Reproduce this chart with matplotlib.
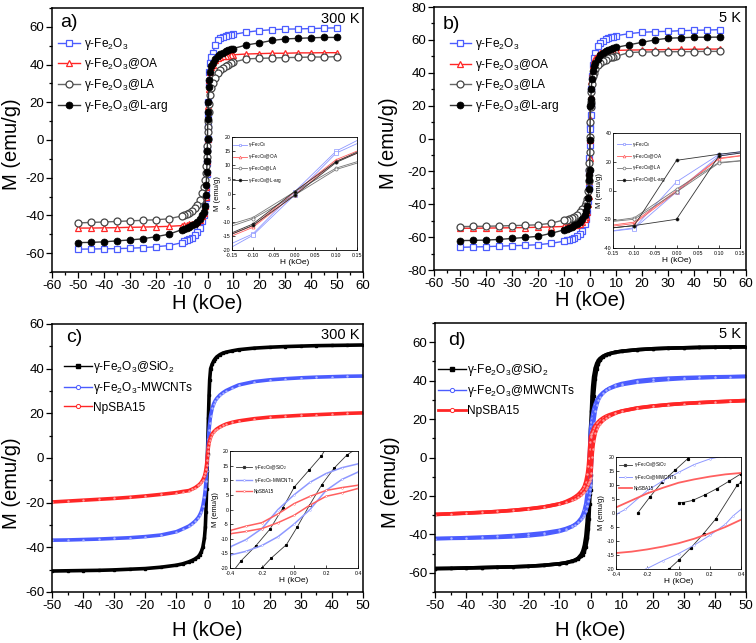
import matplotlib
matplotlib.use('Agg')
import matplotlib.pyplot as plt
from matplotlib.ticker import MultipleLocator

plt.rcParams['font.family'] = ['Liberation Sans', 'DejaVu Sans']
plt.rcParams['mathtext.fontset'] = 'custom'
plt.rcParams['mathtext.rm'] = 'Liberation Sans'
plt.rcParams['mathtext.it'] = 'Liberation Sans:italic'
plt.rcParams['mathtext.bf'] = 'Liberation Sans:bold'
plt.rcParams['axes.unicode_minus'] = False

# ---------------- data: panels a, b (field grid in kOe, descending branch) ----------------
H_ab = [50, 45, 40, 35, 30, 25, 20, 15, 10, 9, 8, 7, 6, 5, 4, 3, 2, 1.5, 1, 0.7, 0.5, 0.3, 0.2, 0.1, 0,
        -0.1, -0.2, -0.3, -0.5, -0.7, -1, -1.5, -2, -3, -4, -5, -6, -7, -8, -9, -10, -15, -20, -25, -30,
        -35, -40, -45, -50]

a_fe = [59.5, 59.3, 59.1, 58.9, 58.8, 58.5, 58.0, 57.2, 56.0, 55.8, 55.6, 55.3, 54.8, 54.2, 53.0, 50.5,
        46.0, 44.0, 41.0, 36.0, 30.0, 20.0, 14.0, 7.0, 0.6, -5.0, -12.0, -18.0, -26.0, -31.0, -35.0, -40.0,
        -43.0, -46.5, -48.8, -50.5, -51.8, -52.6, -53.2, -53.8, -54.5, -56.0, -56.6, -57.1, -57.4, -57.6,
        -57.7, -57.8, -57.9]
a_oa = [46.3, 46.3, 46.2, 46.2, 46.0, 46.0, 45.8, 45.6, 45.2, 45.0, 44.8, 44.6, 44.3, 44.0, 43.4, 42.3,
        40.0, 38.5, 36.0, 32.0, 27.0, 18.0, 12.0, 6.0, 0.5, -5.0, -11.0, -17.0, -25.0, -30.0, -35.0, -38.5,
        -40.5, -42.5, -43.5, -44.0, -44.5, -44.8, -45.0, -45.2, -45.4, -45.8, -46.0, -46.2, -46.3, -46.5,
        -46.6, -46.7, -46.7]
a_la = [44.2, 44.0, 44.0, 43.8, 43.7, 43.5, 43.3, 43.0, 41.3, 40.7, 40.0, 39.2, 38.2, 37.0, 35.3, 33.0,
        30.0, 27.5, 24.0, 19.0, 15.0, 10.0, 7.0, 4.0, 0.5, -3.0, -6.0, -9.0, -14.0, -17.5, -21.0, -25.0,
        -28.0, -32.0, -34.5, -36.2, -37.5, -38.6, -39.3, -39.8, -40.3, -41.8, -42.3, -42.6, -42.9, -43.2,
        -43.5, -43.7, -44.0]
a_larg = [54.4, 54.4, 54.2, 53.9, 53.6, 52.8, 51.5, 50.4, 48.5, 48.0, 47.5, 47.0, 46.3, 45.5, 44.5, 43.0,
          41.0, 39.0, 36.0, 32.0, 28.0, 20.0, 15.0, 11.0, 0.6, -6.0, -11.0, -17.0, -24.0, -29.0, -35.0,
          -38.0, -40.0, -42.0, -43.5, -44.5, -45.3, -46.0, -46.5, -47.0, -47.6, -50.0, -51.3, -52.4, -53.0,
          -53.5, -54.0, -54.3, -54.4]

b_fe = [66.2, 66.0, 65.8, 65.6, 65.2, 65.0, 64.6, 63.8, 62.5, 62.0, 61.5, 61.0, 60.5, 59.5, 58.0, 56.0,
        52.0, 49.0, 45.0, 38.0, 30.0, 20.0, 14.0, 8.0, 6.0, -4.0, -12.0, -20.0, -30.0, -38.0, -45.0, -49.0,
        -52.0, -56.0, -58.0, -59.5, -60.5, -61.0, -61.5, -62.0, -62.5, -63.8, -64.6, -65.0, -65.2, -65.5,
        -65.8, -66.0, -66.2]
b_oa = [54.4, 54.4, 54.3, 54.2, 54.1, 54.0, 53.9, 53.8, 53.6, 53.4, 53.2, 53.0, 52.8, 52.5, 52.0, 51.0,
        49.0, 47.5, 45.0, 40.0, 35.0, 26.0, 20.0, 12.0, -1.0, -12.0, -20.0, -26.0, -35.0, -40.0, -45.0,
        -47.5, -49.0, -51.0, -52.0, -52.5, -52.8, -53.0, -53.2, -53.4, -53.5, -53.8, -54.0, -54.2, -54.3,
        -54.4, -54.5, -54.6, -54.6]
b_la = [53.0, 53.0, 52.9, 52.8, 52.8, 52.7, 52.6, 52.3, 50.0, 49.8, 49.5, 48.8, 48.0, 47.0, 46.0, 44.5,
        42.0, 40.0, 38.0, 33.0, 28.0, 22.0, 19.0, 10.0, 1.0, -8.0, -15.0, -19.0, -26.0, -32.0, -37.0, -39.5,
        -41.0, -43.0, -44.8, -46.5, -47.5, -48.3, -49.0, -49.3, -49.5, -51.6, -52.5, -52.8, -53.0, -53.2,
        -53.4, -53.5, -53.6]
b_larg = [61.7, 61.6, 61.6, 61.3, 61.0, 60.0, 58.5, 57.0, 55.4, 55.0, 54.5, 53.8, 53.0, 52.0, 50.5, 48.5,
          46.0, 44.0, 41.0, 36.0, 30.0, 24.0, 21.0, 20.0, -1.0, -19.0, -22.0, -25.0, -31.0, -36.0, -41.0,
          -44.0, -46.5, -49.0, -50.5, -51.8, -52.8, -53.6, -54.3, -55.0, -55.6, -57.7, -59.5, -60.2, -60.8,
          -61.4, -61.8, -62.0, -62.1]

# ---------------- data: panels c, d ----------------
H_cd = [50, 45, 40, 35, 30, 25, 20, 15, 10, 8, 6, 5, 4, 3, 2.5, 2, 1.5, 1, 0.7, 0.5, 0.3, 0.15, 0,
        -0.15, -0.3, -0.5, -0.7, -1, -1.5, -2, -2.5, -3, -4, -5, -6, -8, -10, -15, -20, -25, -30, -35,
        -40, -45, -50]

c_si = [50.6, 50.5, 50.4, 50.3, 50.1, 49.9, 49.6, 49.2, 48.5, 48.0, 47.4, 47.0, 46.3, 45.3, 44.5, 43.5,
        42.0, 40.0, 35.0, 28.0, 18.0, 10.0, 2.0, -6.0, -14.0, -24.0, -31.0, -36.0, -40.0, -42.0, -43.3,
        -44.2, -45.2, -45.9, -46.5, -47.4, -48.0, -48.9, -49.5, -49.8, -50.1, -50.3, -50.4, -50.5, -50.6]
c_cnt = [36.7, 36.6, 36.4, 36.2, 35.9, 35.5, 35.0, 34.2, 32.7, 31.5, 30.2, 29.3, 28.2, 26.7, 25.7, 24.3,
         22.3, 19.0, 15.5, 12.5, 8.5, 5.0, 1.5, -2.0, -6.0, -10.5, -14.0, -17.5, -21.5, -24.0, -25.5,
         -26.7, -28.3, -29.5, -30.5, -31.8, -33.0, -34.5, -35.2, -35.7, -36.0, -36.3, -36.5, -36.7, -36.8]
c_sba = [20.2, 20.0, 19.7, 19.4, 19.1, 18.7, 18.3, 17.6, 16.6, 16.0, 15.2, 14.6, 13.9, 13.0, 12.4, 11.7,
         10.8, 9.4, 8.0, 6.8, 5.0, 3.2, 1.5, -1.0, -3.0, -5.0, -6.6, -8.2, -9.8, -10.9, -11.7, -12.3,
         -13.3, -14.0, -14.6, -15.0, -15.5, -16.3, -17.0, -17.6, -18.1, -18.5, -18.9, -19.3, -19.7]

d_si_dn = [57.6, 57.5, 57.4, 57.3, 57.1, 56.9, 56.6, 56.1, 55.3, 54.8, 54.0, 53.5, 52.7, 51.5, 50.5, 49.0,
           46.5, 42.0, 37.0, 32.0, 24.0, 19.0, 15.0, 9.0, -1.0, -12.0, -22.0, -32.0, -41.0, -46.0, -48.8,
           -50.5, -52.4, -53.4, -54.0, -54.8, -55.3, -56.1, -56.6, -56.9, -57.1, -57.3, -57.5, -57.7, -57.8]
d_si_up = [57.6, 57.5, 57.4, 57.3, 57.1, 56.9, 56.6, 56.1, 55.3, 54.8, 54.0, 53.4, 52.4, 50.5, 48.8, 46.0,
           41.0, 32.0, 22.0, 12.0, 0.5, -9.0, -17.0, -19.0, -24.0, -32.0, -37.0, -42.0, -46.5, -49.0, -50.5,
           -51.5, -52.7, -53.5, -54.0, -54.8, -55.3, -56.1, -56.6, -56.9, -57.1, -57.3, -57.5, -57.7, -57.8]
d_cnt_dn = [42.2, 42.0, 41.7, 41.4, 41.1, 40.6, 40.0, 39.2, 37.9, 37.0, 35.8, 34.9, 33.8, 32.2, 31.1, 29.8,
            27.8, 25.0, 22.5, 20.5, 18.5, 16.5, 14.5, 10.0, 3.0, -6.0, -12.0, -18.0, -24.0, -27.5, -29.8,
            -31.5, -33.5, -35.0, -36.0, -37.5, -38.5, -40.0, -40.8, -41.3, -41.6, -41.8, -42.0, -42.1, -42.2]
d_cnt_up = [42.2, 42.1, 42.0, 41.8, 41.6, 41.3, 40.8, 40.0, 38.5, 37.5, 36.0, 35.0, 33.5, 31.5, 29.8, 27.5,
            24.0, 18.0, 12.0, 6.0, -3.0, -10.0, -14.5, -16.5, -18.5, -20.5, -22.5, -25.0, -27.8, -29.8,
            -31.1, -32.2, -33.8, -34.9, -35.8, -37.0, -37.9, -39.2, -40.0, -40.6, -41.1, -41.4, -41.7, -42.0,
            -42.2]
d_sba_dn = [29.7, 29.3, 28.9, 28.5, 28.1, 27.5, 26.7, 25.7, 24.1, 23.3, 22.2, 21.5, 20.6, 19.4, 18.6, 17.7,
            16.6, 15.2, 14.0, 13.0, 12.0, 11.3, 10.8, 8.0, 4.5, -0.5, -4.5, -8.5, -12.5, -15.0, -16.5, -17.6,
            -19.3, -20.5, -21.5, -23.0, -24.2, -25.8, -26.8, -27.5, -28.1, -28.6, -29.0, -29.3, -29.6]
d_sba_up = [29.6, 29.3, 29.0, 28.6, 28.1, 27.5, 26.8, 25.8, 24.2, 23.0, 21.5, 20.5, 19.3, 17.6, 16.5, 15.0,
            12.5, 8.5, 4.5, 0.5, -5.0, -8.3, -10.8, -11.3, -12.0, -13.0, -14.0, -15.2, -16.6, -17.7, -18.6,
            -19.4, -20.6, -21.5, -22.2, -23.3, -24.1, -25.7, -26.7, -27.5, -28.1, -28.5, -28.9, -29.3, -29.7]

# ---------------- inset data ----------------
Hi_dn = [0.2, 0.1, 0.0, -0.1, -0.2]
Hi_up = [-0.2, -0.1, 0.0, 0.1, 0.2]
ia_fe_dn = [22.5, 15.0, 0.6, -14.3, -21.0]
ia_fe_up = [-23.0, -14.8, -0.6, 14.3, 21.0]
ia_oa_dn = [18.0, 12.0, 0.5, -11.5, -17.0]
ia_oa_up = [-18.0, -12.0, -0.5, 11.5, 17.0]
ia_la_dn = [13.5, 9.0, 0.6, -8.5, -13.0]
ia_la_up = [-14.0, -9.0, -0.6, 8.5, 13.0]
ia_larg_dn = [18.0, 11.3, 0.7, -10.8, -17.0]
ia_larg_up = [-17.5, -11.3, -0.7, 11.0, 17.5]

ib_fe_dn = [29.0, 25.0, 6.0, -26.0, -30.0]
ib_fe_up = [-30.0, -26.5, -1.0, 24.0, 28.0]
ib_oa_dn = [26.0, 22.5, 0.0, -22.0, -26.0]
ib_oa_up = [-26.5, -23.0, -1.0, 22.0, 26.0]
ib_la_dn = [22.0, 19.5, 1.0, -19.0, -23.0]
ib_la_up = [-23.0, -20.0, -1.0, 19.0, 22.0]
ib_larg_dn = [28.5, 25.2, 21.0, -24.4, -27.5]
ib_larg_up = [-27.5, -24.4, -20.0, 24.0, 28.0]

ic_si_dn_H = [0.3, 0.171, 0.093, 0.002, -0.07, -0.15, -0.24, -0.33, -0.45]
ic_si_dn = [30.0, 18.3, 13.4, 7.7, 0.5, -6.7, -12.5, -17.5, -26.0]
ic_si_up_H = [-0.45, -0.2, -0.142, -0.047, 0.021, 0.097, 0.174, 0.25, 0.33, 0.45]
ic_si_up = [-30.0, -20.0, -16.6, -12.0, -5.9, 1.5, 8.5, 14.1, 18.6, 23.0]
ic_H = [0.45, 0.4, 0.3, 0.2, 0.1, 0.0, -0.1, -0.2, -0.3, -0.4, -0.45]
ic_cnt_dn = [16.0, 15.6, 14.3, 12.3, 9.3, 5.0, 0.0, -6.5, -10.3, -12.8, -13.6]
ic_cnt_up = [13.6, 12.8, 10.3, 6.5, 0.0, -5.0, -9.3, -12.3, -14.3, -15.6, -16.0]
ic_sba_dn = [8.6, 8.3, 7.5, 6.5, 4.5, 2.0, -1.5, -4.5, -5.7, -7.2, -7.8]
ic_sba_up = [7.8, 7.2, 5.7, 4.5, 1.5, -2.0, -4.5, -6.5, -7.5, -8.3, -8.6]

id_si_1_H = [-0.261, -0.182, -0.106, -0.02, 0.059, 0.1]
id_si_1 = [0.0, 5.8, 11.0, 15.4, 19.4, 22.0]
id_si_2_H = [0.001, 0.026, 0.09, 0.17, 0.245, 0.325, 0.4]
id_si_2 = [3.75, 3.7, 4.5, 6.5, 8.7, 11.4, 14.0]
id_si_3_H = [-0.06, 0.0, 0.08, 0.16, 0.24, 0.375, 0.4]
id_si_3 = [-20.0, -16.9, -12.4, -7.4, -2.0, 9.9, 11.0]
id_cnt_dn_H = [0.45, 0.3, 0.2, 0.1, 0.0, -0.1, -0.2, -0.34, -0.4]
id_cnt_dn = [21.5, 20.5, 19.3, 17.3, 14.5, 11.5, 8.0, 1.3, -0.5]
id_cnt_up_H = [-0.3, -0.2, -0.1, 0.0, 0.1, 0.2, 0.3, 0.35, 0.4]
id_cnt_up = [-22.0, -19.8, -17.0, -14.5, -11.5, -8.0, -4.0, -1.0, 1.3]
id_sba_dn_H = [0.45, 0.4, 0.3, 0.2, 0.1, 0.0, -0.1, -0.2, -0.3, -0.4]
id_sba_dn = [14.6, 14.3, 13.8, 13.0, 12.0, 10.8, 9.0, 7.0, 4.5, 2.0]
id_sba_up_H = [-0.4, -0.3, -0.2, -0.1, 0.0, 0.1, 0.2, 0.3, 0.4]
id_sba_up = [-14.3, -13.8, -13.0, -12.0, -10.8, -9.2, -7.2, -5.0, -2.4]

lab_fe = 'γ-Fe$_2$O$_3$'
lab_oa = 'γ-Fe$_2$O$_3$@OA'
lab_la = 'γ-Fe$_2$O$_3$@LA'
lab_larg = 'γ-Fe$_2$O$_3$@L-arg'
lab_si = 'γ-Fe$_2$O$_3$@SiO$_2$'
lab_cnt_c = 'γ-Fe$_2$O$_3$-MWCNTs'
lab_cnt_d = 'γ-Fe$_2$O$_3$@MWCNTs'
lab_sba = 'NpSBA15'

BLUE = '#4b5cff'
RED = '#ff2626'
GRAY = '#444444'
LBLUE = '#8e98ff'
LRED = '#ff6060'
BLUE_MK = '#aab3ff'
RED_MK = '#ff9a9a'

W, HH = 756, 643
fig = plt.figure(figsize=(7.56, 6.43), dpi=100)


def add_ax(l, t, r, b):
    return fig.add_axes([l / W, 1 - b / HH, (r - l) / W, (b - t) / HH])


def style_main(ax, xlim, ylim, xmaj, ymaj, l, t, r, b, xlab_off, ylab_x, ylab_y):
    ax.set_xlim(xlim)
    ax.set_ylim(ylim)
    ax.xaxis.set_major_locator(MultipleLocator(xmaj))
    ax.xaxis.set_minor_locator(MultipleLocator(xmaj / 2))
    ax.yaxis.set_major_locator(MultipleLocator(ymaj))
    ax.yaxis.set_minor_locator(MultipleLocator(ymaj / 2))
    ax.tick_params(which='major', direction='out', length=4, width=0.9, labelsize=9.5, pad=1.5)
    ax.tick_params(which='minor', direction='out', length=2, width=0.9)
    for s in ax.spines.values():
        s.set_linewidth(1.1)
    ax.set_xlabel('H (kOe)', fontsize=14.5)
    ax.set_ylabel('M (emu/g)', fontsize=14.5)
    ax.xaxis.set_label_coords(0.5, -xlab_off / (b - t))
    ax.xaxis.label.set_va('center')
    ax.yaxis.set_label_coords(-(l - ylab_x) / (r - l), 1 - (ylab_y - t) / (b - t))
    ax.yaxis.label.set_va('center')


def style_inset(ax, xlim, ylim, xmaj, ymaj, xfmt):
    ax.set_xlim(xlim)
    ax.set_ylim(ylim)
    ax.xaxis.set_major_locator(MultipleLocator(xmaj))
    ax.yaxis.set_major_locator(MultipleLocator(ymaj))
    ax.xaxis.set_major_formatter(matplotlib.ticker.FormatStrFormatter(xfmt))
    ax.tick_params(which='major', direction='in', length=2, width=0.5, labelsize=3.8, pad=1)
    ax.tick_params(axis='x', pad=2)
    for s in ax.spines.values():
        s.set_linewidth(0.6)
    ax.set_xlabel('H (kOe)', fontsize=6, labelpad=1)
    ax.set_ylabel('M (emu/g)', fontsize=5.5, labelpad=1)


# ================= panel a =================
la_, ta_, ra_, ba_ = 52, 8, 363, 272
ax = add_ax(la_, ta_, ra_, ba_)
ax.plot(H_ab, a_fe, '-', color=BLUE, lw=1, marker='s', ms=4.3, mfc='white', mec=BLUE, mew=0.9, label=lab_fe)
ax.plot(H_ab, a_oa, '-', color=RED, lw=1, marker='^', ms=4.6, mfc='white', mec=RED, mew=0.9, label=lab_oa)
ax.plot(H_ab, a_la, '-', color='#666666', lw=1, marker='o', ms=5, mfc='white', mec=GRAY, mew=0.9, label=lab_la)
ax.plot(H_ab, a_larg, '-', color='#333333', lw=1, marker='o', ms=5, mfc='black', mec='black', mew=0.5, label=lab_larg)
style_main(ax, (-60, 60), (-70, 70), 10, 20, la_, ta_, ra_, ba_, 31, 11, 144)
ax.text(0.055, 0.945, 'a)', transform=ax.transAxes, fontsize=14, va='center', ha='center')
ax.text(0.99, 0.96, '300 K', transform=ax.transAxes, fontsize=10.5, va='center', ha='right')
ax.legend(loc='upper left', bbox_to_anchor=(0.02, 0.895), frameon=False, fontsize=8.6, numpoints=1,
          handlelength=1.8, handletextpad=0.35, labelspacing=0.4, borderpad=0, borderaxespad=0)

ins = add_ax(232, 137, 357, 250)
for Hs, Ms, c, mk, mf in [(Hi_dn, ia_fe_dn, LBLUE, 's', 'white'), (Hi_up, ia_fe_up, LBLUE, 's', 'white'),
                          (Hi_dn, ia_oa_dn, LRED, '^', 'white'), (Hi_up, ia_oa_up, LRED, '^', 'white'),
                          (Hi_dn, ia_la_dn, '#777777', 'o', 'white'), (Hi_up, ia_la_up, '#777777', 'o', 'white'),
                          (Hi_dn, ia_larg_dn, '#333333', 'o', 'black'), (Hi_up, ia_larg_up, '#333333', 'o', 'black')]:
    ins.plot(Hs, Ms, '-', color=c, lw=0.6, marker=mk, ms=2.2, mfc=mf, mec=c, mew=0.5)
h = [ins.plot([], [], '-', color=c, lw=0.6, marker=mk, ms=2, mfc=mf, mec=c, mew=0.5)[0]
     for c, mk, mf in [(LBLUE, 's', 'white'), (LRED, '^', 'white'), ('#777777', 'o', 'white'), ('#333333', 'o', 'black')]]
ins.legend(h, [lab_fe, lab_oa, lab_la, lab_larg], loc='upper left', bbox_to_anchor=(0.01, 0.97), frameon=False,
           fontsize=3.3, numpoints=1, handlelength=3, handletextpad=0.3, labelspacing=0.6, borderpad=0,
           borderaxespad=0)
style_inset(ins, (-0.15, 0.15), (-20, 20), 0.05, 5, '%.2f')

# ================= panel b =================
lb_, tb_, rb_, bb_ = 434, 7, 746, 270
ax = add_ax(lb_, tb_, rb_, bb_)
ax.plot(H_ab, b_fe, '-', color=BLUE, lw=1, marker='s', ms=4.3, mfc='white', mec=BLUE, mew=0.9, label=lab_fe)
ax.plot(H_ab, b_oa, '-', color=RED, lw=1, marker='^', ms=4.6, mfc='white', mec=RED, mew=0.9, label=lab_oa)
ax.plot(H_ab, b_la, '-', color='#666666', lw=1, marker='o', ms=5, mfc='white', mec=GRAY, mew=0.9, label=lab_la)
ax.plot(H_ab, b_larg, '-', color='#333333', lw=1, marker='o', ms=5, mfc='black', mec='black', mew=0.5, label=lab_larg)
style_main(ax, (-60, 60), (-80, 80), 10, 20, lb_, tb_, rb_, bb_, 30, 389, 143)
ax.text(0.055, 0.935, 'b)', transform=ax.transAxes, fontsize=14, va='center', ha='center')
ax.text(0.985, 0.96, '5 K', transform=ax.transAxes, fontsize=10.5, va='center', ha='right')
ax.legend(loc='upper left', bbox_to_anchor=(0.05, 0.89), frameon=False, fontsize=8.6, numpoints=1,
          handlelength=1.8, handletextpad=0.35, labelspacing=0.4, borderpad=0, borderaxespad=0)

ins = add_ax(613, 133, 740, 248)
for Hs, Ms, c, mk, mf in [(Hi_dn, ib_fe_dn, LBLUE, 's', 'white'), (Hi_up, ib_fe_up, LBLUE, 's', 'white'),
                          (Hi_dn, ib_oa_dn, LRED, '^', 'white'), (Hi_up, ib_oa_up, LRED, '^', 'white'),
                          (Hi_dn, ib_la_dn, '#777777', 'o', 'white'), (Hi_up, ib_la_up, '#777777', 'o', 'white'),
                          (Hi_dn, ib_larg_dn, '#333333', 'o', 'black'), (Hi_up, ib_larg_up, '#333333', 'o', 'black')]:
    ins.plot(Hs, Ms, '-', color=c, lw=0.6, marker=mk, ms=2.2, mfc=mf, mec=c, mew=0.5)
h = [ins.plot([], [], '-', color=c, lw=0.6, marker=mk, ms=2, mfc=mf, mec=c, mew=0.5)[0]
     for c, mk, mf in [(LBLUE, 's', 'white'), (LRED, '^', 'white'), ('#777777', 'o', 'white'), ('#333333', 'o', 'black')]]
ins.legend(h, [lab_fe, lab_oa, lab_la, lab_larg], loc='upper left', bbox_to_anchor=(0.03, 0.94), frameon=False,
           fontsize=3.3, numpoints=1, handlelength=3, handletextpad=0.3, labelspacing=0.6, borderpad=0,
           borderaxespad=0)
style_inset(ins, (-0.15, 0.15), (-40, 40), 0.05, 20, '%.2f')

# ================= panel c =================
lc_, tc_, rc_, bc_ = 52, 324, 363, 592
ax = add_ax(lc_, tc_, rc_, bc_)
ax.plot(H_cd, c_si, '-', color='black', lw=2.6, marker='s', ms=1.6, mfc='black', mec='black', label=lab_si)
ax.plot(H_cd, c_cnt, '-', color=BLUE, lw=2.6, marker='o', ms=1.4, mfc=BLUE_MK, mec=BLUE_MK, mew=0.3, label=lab_cnt_c)
ax.plot(H_cd, c_sba, '-', color=RED, lw=2.6, marker='o', ms=1.4, mfc=RED_MK, mec=RED_MK, mew=0.3, label=lab_sba)
style_main(ax, (-50, 50), (-60, 60), 10, 20, lc_, tc_, rc_, bc_, 38, 11, 483)
ax.text(0.07, 0.95, 'c)', transform=ax.transAxes, fontsize=14, va='center', ha='center')
ax.text(0.99, 0.96, '300 K', transform=ax.transAxes, fontsize=10.5, va='center', ha='right')
hc = [ax.plot([], [], '-', color='black', lw=1, marker='s', ms=2.5, mfc='black')[0],
      ax.plot([], [], '-', color=BLUE, lw=1, marker='o', ms=3, mfc='white', mec=BLUE, mew=0.7)[0],
      ax.plot([], [], '-', color=RED, lw=1, marker='o', ms=3, mfc='white', mec=RED, mew=0.7)[0]]
ax.legend(hc, [lab_si, lab_cnt_c, lab_sba], loc='upper left', bbox_to_anchor=(0.04, 0.87), frameon=False,
          fontsize=8.6, numpoints=1, handlelength=2.3, handletextpad=0.1, labelspacing=0.45, borderpad=0,
          borderaxespad=0)

ins = add_ax(230, 451, 358, 568)
ins.plot(ic_si_dn_H, ic_si_dn, '-', color='#333333', lw=0.6, marker='s', ms=1.2, mfc='black', mec='black')
ins.plot(ic_si_up_H, ic_si_up, '-', color='#333333', lw=0.6, marker='s', ms=1.2, mfc='black', mec='black')
ins.plot(ic_H, ic_cnt_dn, '-', color=LBLUE, lw=1.1, marker='o', ms=1.2, mfc='white', mec=LBLUE, mew=0.3)
ins.plot(ic_H, ic_cnt_up, '-', color=LBLUE, lw=1.1, marker='o', ms=1.2, mfc='white', mec=LBLUE, mew=0.3)
ins.plot(ic_H, ic_sba_dn, '-', color=LRED, lw=1.1, marker='o', ms=1.2, mfc='white', mec=LRED, mew=0.3)
ins.plot(ic_H, ic_sba_up, '-', color=LRED, lw=1.1, marker='o', ms=1.2, mfc='white', mec=LRED, mew=0.3)
h = [ins.plot([], [], '-', color='#333333', lw=0.6, marker='s', ms=1.3, mfc='black')[0],
     ins.plot([], [], '-', color=LBLUE, lw=1.0, marker='o', ms=1.3, mfc='white', mec=LBLUE, mew=0.3)[0],
     ins.plot([], [], '-', color=LRED, lw=1.0, marker='o', ms=1.3, mfc='white', mec=LRED, mew=0.3)[0]]
ins.legend(h, [lab_si, lab_cnt_c, lab_sba], loc='upper left', bbox_to_anchor=(0.05, 0.9), frameon=False,
           fontsize=3.3, numpoints=1, handlelength=3.5, handletextpad=0.3, labelspacing=0.9, borderpad=0,
           borderaxespad=0)
style_inset(ins, (-0.4, 0.4), (-20, 20), 0.2, 5, '%.1f')

# ================= panel d =================
ld_, td_, rd_, bd_ = 435, 323, 746, 592
ax = add_ax(ld_, td_, rd_, bd_)
ax.plot(H_cd, d_si_dn, '-', color='black', lw=2.6, marker='s', ms=1.6, mfc='black', mec='black')
ax.plot(H_cd, d_si_up, '-', color='black', lw=2.6, marker='s', ms=1.6, mfc='black', mec='black')
ax.plot(H_cd, d_cnt_dn, '-', color=BLUE, lw=2.6, marker='o', ms=1.4, mfc=BLUE_MK, mec=BLUE_MK, mew=0.3)
ax.plot(H_cd, d_cnt_up, '-', color=BLUE, lw=2.6, marker='o', ms=1.4, mfc=BLUE_MK, mec=BLUE_MK, mew=0.3)
ax.plot(H_cd, d_sba_dn, '-', color=RED, lw=2.6, marker='o', ms=1.4, mfc=RED_MK, mec=RED_MK, mew=0.3)
ax.plot(H_cd, d_sba_up, '-', color=RED, lw=2.6, marker='o', ms=1.4, mfc=RED_MK, mec=RED_MK, mew=0.3)
style_main(ax, (-50, 50), (-70, 70), 10, 20, ld_, td_, rd_, bd_, 38, 391, 482)
ax.text(0.07, 0.935, 'd)', transform=ax.transAxes, fontsize=14, va='center', ha='center')
ax.text(0.985, 0.96, '5 K', transform=ax.transAxes, fontsize=10.5, va='center', ha='right')
hd = [ax.plot([], [], '-', color='black', lw=1, marker='s', ms=2.5, mfc='black')[0],
      ax.plot([], [], '-', color=BLUE, lw=1, marker='o', ms=3, mfc='white', mec=BLUE, mew=0.7)[0],
      ax.plot([], [], '-', color=RED, lw=2, marker='o', ms=3, mfc='white', mec=RED, mew=0.7)[0]]
ax.legend(hd, [lab_si, lab_cnt_d, lab_sba], loc='upper left', bbox_to_anchor=(0.01, 0.855), frameon=False,
          fontsize=8.6, numpoints=1, handlelength=2.3, handletextpad=0.1, labelspacing=0.45, borderpad=0,
          borderaxespad=0)

ins = add_ax(616, 457, 741, 569)
ins.plot(id_si_1_H, id_si_1, '-', color='#333333', lw=0.6, marker='s', ms=1.3, mfc='black', mec='black')
ins.plot(id_si_2_H, id_si_2, '-', color='#333333', lw=0.6, marker='s', ms=1.3, mfc='black', mec='black')
ins.plot(id_si_3_H, id_si_3, '-', color='#333333', lw=0.6, marker='s', ms=1.3, mfc='black', mec='black')
ins.plot(id_cnt_dn_H, id_cnt_dn, '-', color=LBLUE, lw=0.7, marker='o', ms=1.3, mfc='white', mec=LBLUE, mew=0.3)
ins.plot(id_cnt_up_H, id_cnt_up, '-', color=LBLUE, lw=0.7, marker='o', ms=1.3, mfc='white', mec=LBLUE, mew=0.3)
ins.plot(id_sba_dn_H, id_sba_dn, '-', color=LRED, lw=1.3)
ins.plot(id_sba_up_H, id_sba_up, '-', color=LRED, lw=1.3)
h = [ins.plot([], [], '-', color='#333333', lw=0.6, marker='s', ms=1.3, mfc='black')[0],
     ins.plot([], [], '-', color=LBLUE, lw=0.7, marker='o', ms=1.3, mfc='white', mec=LBLUE, mew=0.3)[0],
     ins.plot([], [], '-', color=LRED, lw=1.3)[0]]
ins.legend(h, [lab_si, lab_cnt_d, lab_sba], loc='upper left', bbox_to_anchor=(0.02, 0.97), frameon=False,
           fontsize=3.3, numpoints=1, handlelength=3, handletextpad=0.3, labelspacing=0.8, borderpad=0,
           borderaxespad=0)
style_inset(ins, (-0.4, 0.4), (-20, 20), 0.2, 5, '%.1f')

fig.savefig('out.png', dpi=100)
